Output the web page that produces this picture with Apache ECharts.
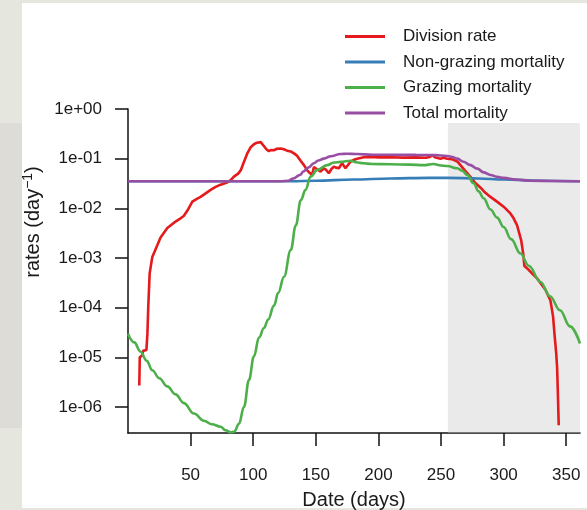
<!DOCTYPE html>
<html>
<head>
<meta charset="utf-8">
<script src="https://cdn.jsdelivr.net/npm/echarts@6/dist/echarts.min.js"></script>
<style>
html,body{margin:0;padding:0;background:#e5e6de;}
#chart{width:587px;height:510px;}
</style>
</head>
<body>
<div id="chart"></div>
<script>
// ---- data ----
const seriesNames = ['Division rate', 'Non-grazing mortality', 'Grazing mortality', 'Total mortality'];

const divisionDays = [9,9.4,11.5,12,14.7,15.5,16.2,17.3,19.4,23.4,26,31.4,37,42,44.5,48,51.4,55,58,62,66,70,74,79,82,84.6,88,90,92.5,95.3,98,100.6,103,106,108.5,110.5,112.5,114.5,116.5,119,122,124.5,127,130,132.5,135,138,140.4,143,145,147,148.5,149.8,151.5,153.8,156.4,158,160.4,162.5,164.4,166,168.4,171,173.7,177.7,180,183,188.4,195,200,210,220,230,238,241,243,245,249.6,252,255,259,263,265.5,269,273.5,277,281.6,285,289.5,295,300,305.4,308,310.7,314,315.6,316.6,320,323,326.7,330,333.4,337.4,339.5,340.6,342,342.7,343.3,344];
const divisionRate = [2.7e-6,1.0e-5,1.1e-5,1.35e-5,1.4e-5,3.0e-5,1.07e-4,4.9e-4,1.05e-3,1.8e-3,2.6e-3,4.0e-3,5.2e-3,6.3e-3,7.0e-3,9.5e-3,0.0136,0.0155,0.017,0.020,0.0235,0.027,0.030,0.033,0.037,0.0435,0.05,0.058,0.085,0.128,0.17,0.195,0.21,0.215,0.18,0.155,0.142,0.15,0.148,0.158,0.16,0.155,0.145,0.14,0.128,0.115,0.09,0.075,0.059,0.052,0.047,0.068,0.074,0.06,0.055,0.064,0.06,0.051,0.062,0.069,0.066,0.064,0.081,0.064,0.087,0.094,0.10,0.107,0.108,0.106,0.107,0.105,0.106,0.104,0.108,0.118,0.107,0.10,0.104,0.10,0.097,0.088,0.074,0.058,0.043,0.033,0.026,0.021,0.017,0.0135,0.0108,0.0079,0.0063,0.0046,0.0023,0.00124,0.00069,0.00058,0.00048,0.00039,0.0003,0.00023,0.00014,6.6e-5,3.0e-5,1.2e-5,6.4e-6,2e-6,4.3e-7];

const nonGrazingDays = [0,50,100,130,150,180,210,240,255,280,300,330,361];
const nonGrazingRate = [0.035,0.035,0.035,0.0352,0.036,0.038,0.040,0.041,0.041,0.040,0.038,0.036,0.035];

const grazingDays = [0,5,10,15,19.4,25,31.4,38,44.6,52.7,60.6,67,74,78,82,85,88.6,92.6,96.6,100.6,104.6,108.6,112,116.6,120,124.6,130,134,138,141.8,145.8,151.2,159,164.4,170,177.7,182,188,195,209.6,225,236,244,250,255,263,267,271,276,280,284,289.5,294.8,300,306,313.4,320,329.4,337,345,353,361];
const grazingRate = [3.0e-5,2.0e-5,1.3e-5,8.5e-6,5.5e-6,3.8e-6,2.6e-6,1.8e-6,1.2e-6,7.4e-7,5.3e-7,4.5e-7,4.0e-7,3.4e-7,3.1e-7,3.2e-7,4.6e-7,1.0e-6,3.5e-6,1.05e-5,2.5e-5,3.9e-5,5.8e-5,1.1e-4,2.0e-4,4.2e-4,1.45e-3,4.5e-3,0.0146,0.0235,0.0435,0.059,0.074,0.084,0.086,0.091,0.085,0.081,0.078,0.077,0.076,0.074,0.078,0.073,0.071,0.064,0.057,0.047,0.032,0.022,0.016,0.0095,0.0065,0.0042,0.0024,0.00124,0.0007,0.00033,0.00017,8.9e-5,4.2e-5,1.9e-5];

const totalDays = [0,50,100,121.7,128,132,137.7,140,144,148.4,152,156.4,162,169.7,175,183,195,210,230,245,255,259,263,268,273,279,284,289.5,295,300,310,321,340,361];
const totalRate = [0.035,0.035,0.035,0.0352,0.036,0.040,0.0475,0.055,0.066,0.081,0.092,0.10,0.112,0.124,0.126,0.124,0.12,0.12,0.119,0.118,0.113,0.108,0.10,0.087,0.075,0.063,0.053,0.047,0.043,0.041,0.038,0.036,0.0355,0.035];

const xTickValues = [50,100,150,200,250,300,350];
const yTickValues = [1e-6,1e-5,1e-4,1e-3,1e-2,1e-1,1];
const yTickLabels = ['1e-06','1e-05','1e-04','1e-03','1e-02','1e-01','1e+00'];
const shadeStart = 255.5;   // start of the shaded period (days)
const shadeTop = 0.52;

// ---- chart ----
const colors = ['#e41a1c', '#377eb8', '#4daf4a', '#984ea3'];
const FONT = '"Liberation Sans", Arial, Helvetica, sans-serif';
const xMin = 0, xMax = 361, yMin = 3e-7, yMax = 1;

function pairs(xs, ys) { return xs.map((x, i) => [x, ys[i]]); }

const chart = echarts.init(document.getElementById('chart'), null, {renderer: 'canvas'});

const lineSeries = [
  [divisionDays, divisionRate, false],
  [nonGrazingDays, nonGrazingRate, 0.4],
  [grazingDays, grazingRate, 0.4],
  [totalDays, totalRate, 0.4]
].map((d, i) => ({
  name: seriesNames[i],
  type: 'line',
  data: pairs(d[0], d[1]),
  showSymbol: false,
  smooth: d[2],
  smoothMonotone: 'x',
  clip: true,
  z: 2 + i,
  lineStyle: {color: colors[i], width: 2.6},
  itemStyle: {color: colors[i]},
  emphasis: {disabled: true}
}));

lineSeries.push({
  name: 'shade',
  type: 'line',
  data: [],
  z: 20,
  silent: true,
  markArea: {
    silent: true,
    itemStyle: {color: 'rgba(200,200,200,0.38)'},
    data: [[{xAxis: shadeStart, yAxis: yMin}, {xAxis: xMax, yAxis: shadeTop}]]
  }
});

chart.setOption({
  animation: false,
  backgroundColor: '#e5e6de',
  textStyle: {fontFamily: FONT},
  graphic: [
    {type: 'rect', z: -10, silent: true, shape: {x: 0, y: 123, width: 22, height: 305}, style: {fill: '#dddcd7'}},
    {type: 'rect', z: -10, silent: true, shape: {x: 22, y: 3, width: 565, height: 505}, style: {fill: '#ffffff'}}
  ],
  grid: {left: 128, right: 7, top: 109, bottom: 77, containLabel: false, outerBoundsMode: 'none'},
  legend: {
    data: seriesNames,
    orient: 'vertical',
    left: 345,
    top: 28,
    padding: 0,
    icon: 'rect',
    itemWidth: 40,
    itemHeight: 3,
    itemGap: 8.5,
    textStyle: {fontSize: 17, color: '#1a1a1a', fontFamily: FONT, padding: [0, 0, 0, 13]},
    selectedMode: false
  },
  xAxis: {
    type: 'value',
    min: xMin, max: xMax,
    interval: 50,
    name: 'Date (days)',
    nameLocation: 'middle',
    nameGap: 57,
    nameTextStyle: {fontSize: 20, color: '#1a1a1a', fontFamily: FONT},
    splitLine: {show: false},
    axisLine: {show: true, onZero: false, lineStyle: {color: '#111', width: 1.5}},
    axisTick: {show: true, inside: false, length: 13, customValues: xTickValues, lineStyle: {color: '#111', width: 1.5}},
    axisLabel: {customValues: xTickValues, fontSize: 17, color: '#1a1a1a', margin: 34, fontFamily: FONT}
  },
  yAxis: {
    type: 'log',
    logBase: 10,
    min: yMin, max: yMax,
    name: 'rates (day{sup|\u22121})',
    nameLocation: 'middle',
    nameRotate: 90,
    nameGap: 79,
    nameTextStyle: {
      fontSize: 20, color: '#1a1a1a', fontFamily: FONT,
      padding: [0, 0, 0, 98],
      rich: {sup: {fontSize: 14, fontFamily: FONT, color: '#1a1a1a', verticalAlign: 'top', padding: [0, 0, 10, 0]}}
    },
    splitLine: {show: false},
    axisLine: {show: true, onZero: false, lineStyle: {color: '#111', width: 1.5}},
    axisTick: {show: true, inside: false, length: 13, customValues: yTickValues, lineStyle: {color: '#111', width: 1.5}},
    axisLabel: {
      customValues: yTickValues,
      fontSize: 17, color: '#1a1a1a', margin: 26, fontFamily: FONT,
      formatter: function (v) {
        const i = yTickValues.findIndex(t => Math.abs(Math.log10(t) - Math.log10(v)) < 1e-6);
        return i >= 0 ? yTickLabels[i] : '';
      }
    }
  },
  series: lineSeries
});
</script>
</body>
</html>
